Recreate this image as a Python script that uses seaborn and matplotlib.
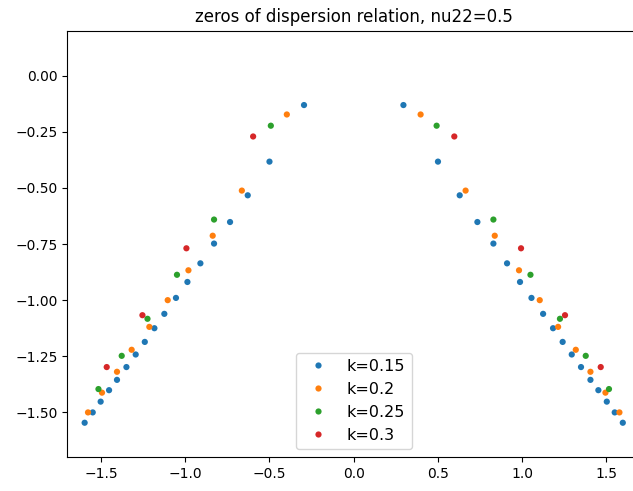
import numpy as np
import pandas as pd
import matplotlib
matplotlib.use("Agg")
import matplotlib.pyplot as plt
import seaborn as sns

# ceros (mitad izquierda y mitad derecha)
x_k015 = [-0.295, -0.500, -0.629, -0.734, -0.829, -0.910, -0.987, -1.055, -1.124,
          -1.183, -1.240, -1.294, -1.349, -1.405, -1.452, -1.502, -1.549, -1.597,
          0.295, 0.500, 0.629, 0.734, 0.829, 0.910, 0.987, 1.055, 1.124,
          1.183, 1.240, 1.294, 1.349, 1.405, 1.452, 1.502, 1.549, 1.597]
y_k015 = [-0.131, -0.383, -0.533, -0.652, -0.748, -0.836, -0.919, -0.990, -1.061,
          -1.125, -1.186, -1.242, -1.298, -1.355, -1.401, -1.452, -1.500, -1.546,
          -0.131, -0.383, -0.533, -0.652, -0.748, -0.836, -0.919, -0.990, -1.061,
          -1.125, -1.186, -1.242, -1.298, -1.355, -1.401, -1.452, -1.500, -1.546]

x_k02 = [-0.397, -0.664, -0.837, -0.981, -1.104, -1.213, -1.318, -1.405, -1.494, -1.577,
         0.397, 0.664, 0.837, 0.981, 1.104, 1.213, 1.318, 1.405, 1.494, 1.577]
y_k02 = [-0.173, -0.512, -0.713, -0.867, -1.000, -1.119, -1.221, -1.319, -1.412, -1.500,
         -0.173, -0.512, -0.713, -0.867, -1.000, -1.119, -1.221, -1.319, -1.412, -1.500]

x_k025 = [-0.492, -0.829, -1.049, -1.224, -1.377, -1.515,
          0.492, 0.829, 1.049, 1.224, 1.377, 1.515]
y_k025 = [-0.223, -0.641, -0.887, -1.083, -1.248, -1.396,
          -0.223, -0.641, -0.887, -1.083, -1.248, -1.396]

x_k03 = [-0.597, -0.993, -1.254, -1.466, 0.597, 0.993, 1.254, 1.466]
y_k03 = [-0.271, -0.769, -1.067, -1.298, -0.271, -0.769, -1.067, -1.298]

etiquetas = ['k=0.15', 'k=0.2', 'k=0.25', 'k=0.3']
xs = [x_k015, x_k02, x_k025, x_k03]
ys = [y_k015, y_k02, y_k025, y_k03]

# armar tabla larga para seaborn
filas = []
for et, xx, yy in zip(etiquetas, xs, ys):
    for a, b in zip(xx, yy):
        filas.append({'re': a, 'im': b, 'k': et})
df = pd.DataFrame(filas)

fig = plt.figure(figsize=(6.33, 4.91), dpi=100)
ax = fig.add_axes([0.1063, 0.0686, 0.905, 0.8688])

sns.scatterplot(data=df, x='re', y='im', hue='k', hue_order=etiquetas,
                palette='tab10', s=20, linewidth=0, ax=ax)

ax.set_xlim(-1.7, 1.7)
ax.set_ylim(-1.7, 0.2)
ax.set_xlabel('')
ax.set_ylabel('')
ax.spines['right'].set_visible(False)
ax.set_title('zeros of dispersion relation, nu22=0.5')
ax.legend(loc='lower center', fontsize=11.5, markerscale=1.0)

plt.savefig('out.png', dpi=100)
